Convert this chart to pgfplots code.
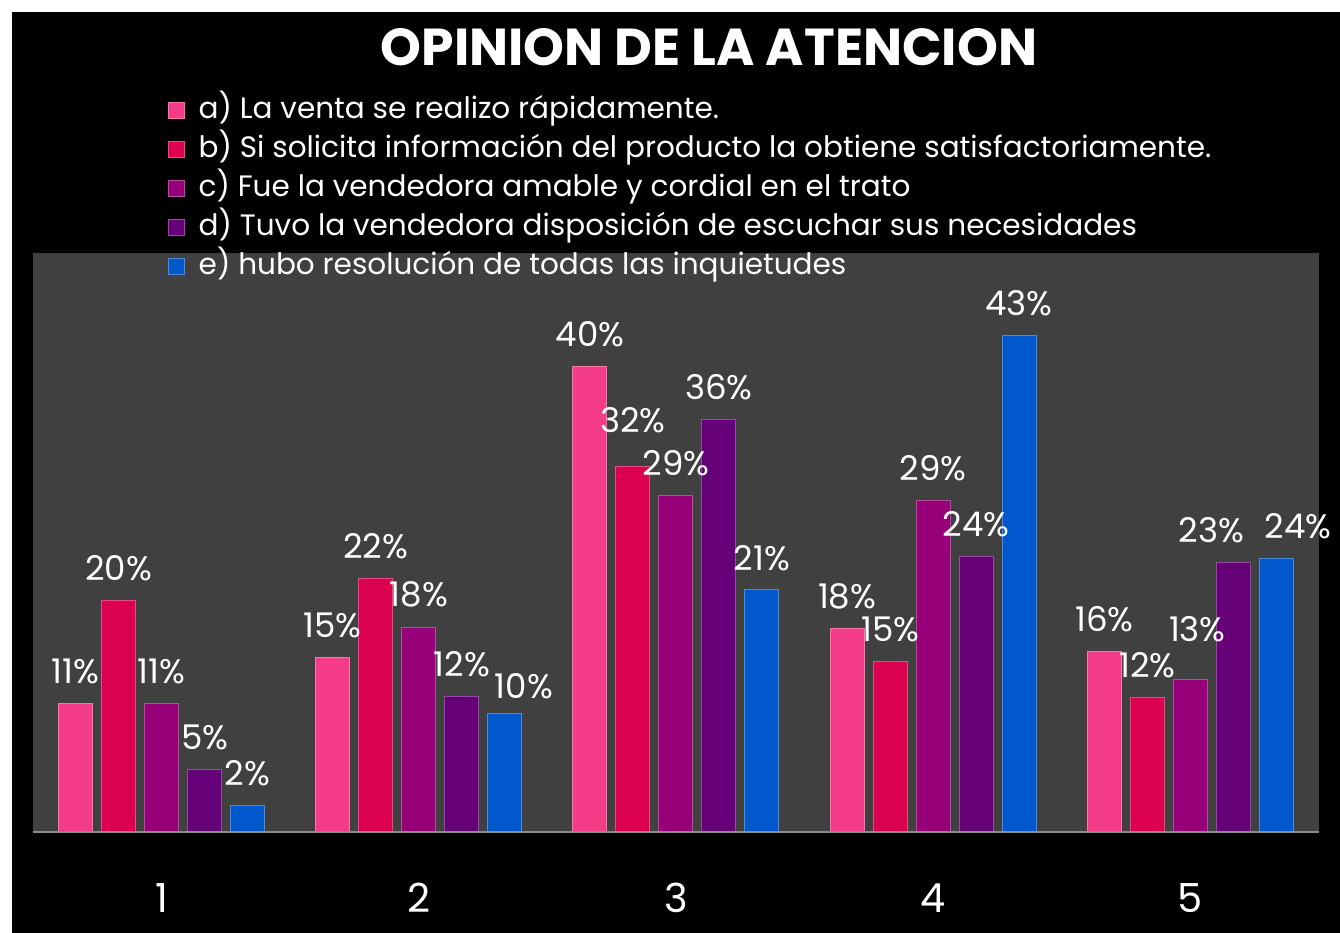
\documentclass[border=0pt]{standalone}
\usepackage{pgfplots}
\pgfplotsset{compat=1.18}
\usepackage{fontspec}
\setmainfont{Poppins}
\definecolor{ca}{HTML}{F43C88}
\definecolor{cb}{HTML}{DC0050}
\definecolor{cc}{HTML}{960078}
\definecolor{cd}{HTML}{660078}
\definecolor{ce}{HTML}{0058CC}
\definecolor{plotbg}{HTML}{404040}
\definecolor{baseln}{HTML}{8C8C8C}
\begin{document}
\begin{tikzpicture}[x=1pt,y=1pt]
\fill[white] (-33,-101) rectangle (1307,832);
\useasboundingbox (-33,-101) rectangle (1307,832);
\fill[black] (-21,-101) rectangle (1307,820);
\node[text=white, font=\fontsize{52}{58}\selectfont\bfseries] at (676,785) {OPINION DE LA ATENCION};
\begin{axis}[
  at={(0,0)}, anchor=south west,
  scale only axis, width=1286pt, height=579pt,
  xmin=-0.5, xmax=4.5, ymin=0, ymax=50,
  enlargelimits=false, clip=false,
  axis background/.style={fill=plotbg},
  axis line style={draw=none},
  ytick=\empty,
  xtick={0,1,2,3,4}, xticklabels={1,2,3,4,5},
  major tick length=0pt,
  xticklabel style={anchor=center, yshift=-66pt, text=white, font=\fontsize{40}{46}\selectfont},
  ybar=9pt, bar width=34pt,
  point meta=y,
  /pgf/number format/assume math mode=true,
  nodes near coords={\pgfmathprintnumber[fixed,precision=0,assume math mode=true]{\pgfplotspointmeta}\%},
  every node near coord/.append style={text=white, font=\fontsize{34}{38}\selectfont, inner sep=0pt, yshift=19pt},
  legend image code/.code={\fill[#1] (0pt,-8pt) rectangle (16pt,8pt); \path[draw=none,fill=none] (30pt,0pt) circle (0pt);},
  legend cell align=left,
  legend style={draw=none, fill=none, text=white, at={(0.105,1.271)}, anchor=north west,
    inner sep=0pt, row sep=10pt, font=\fontsize{29.5}{34}\selectfont,
    nodes={inner sep=0pt, text height=22pt, text depth=7pt}},
]
\addplot[fill=ca, draw=ca!70!white, line width=1pt] coordinates {(0,11.1) (1,15.1) (2,40.2) (3,17.6) (4,15.6)};
\addplot[fill=cb, draw=cb!70!white, line width=1pt, coordinate style/.condition={x==2}{yshift=14pt}] coordinates {(0,20.0) (1,21.9) (2,31.6) (3,14.7) (4,11.6)};
\addplot[fill=cc, draw=cc!70!white, line width=1pt, coordinate style/.condition={x==4}{xshift=7pt,yshift=18pt}] coordinates {(0,11.1) (1,17.7) (2,29.1) (3,28.6) (4,13.2)};
\addplot[fill=cd, draw=cd!70!white, line width=1pt, coordinate style/.condition={x==4}{xshift=-22pt}] coordinates {(0,5.4) (1,11.7) (2,35.6) (3,23.8) (4,23.3)};
\addplot[fill=ce, draw=ce!70!white, line width=1pt, coordinate style/.condition={x==4}{xshift=22pt}, coordinate style/.condition={x==1}{xshift=19pt,yshift=-5pt}] coordinates {(0,2.3) (1,10.2) (2,20.9) (3,42.9) (4,23.6)};
\legend{a) La venta se realizo rápidamente.,
b) Si solicita información del producto la obtiene satisfactoriamente.,
c) Fue la vendedora amable y cordial en el trato,
d) Tuvo la vendedora disposición de escuchar sus necesidades,
e) hubo resolución de todas las inquietudes}
\draw[baseln, line width=2pt] (rel axis cs:0,0) -- (rel axis cs:1,0);
\end{axis}
\end{tikzpicture}
\end{document}
